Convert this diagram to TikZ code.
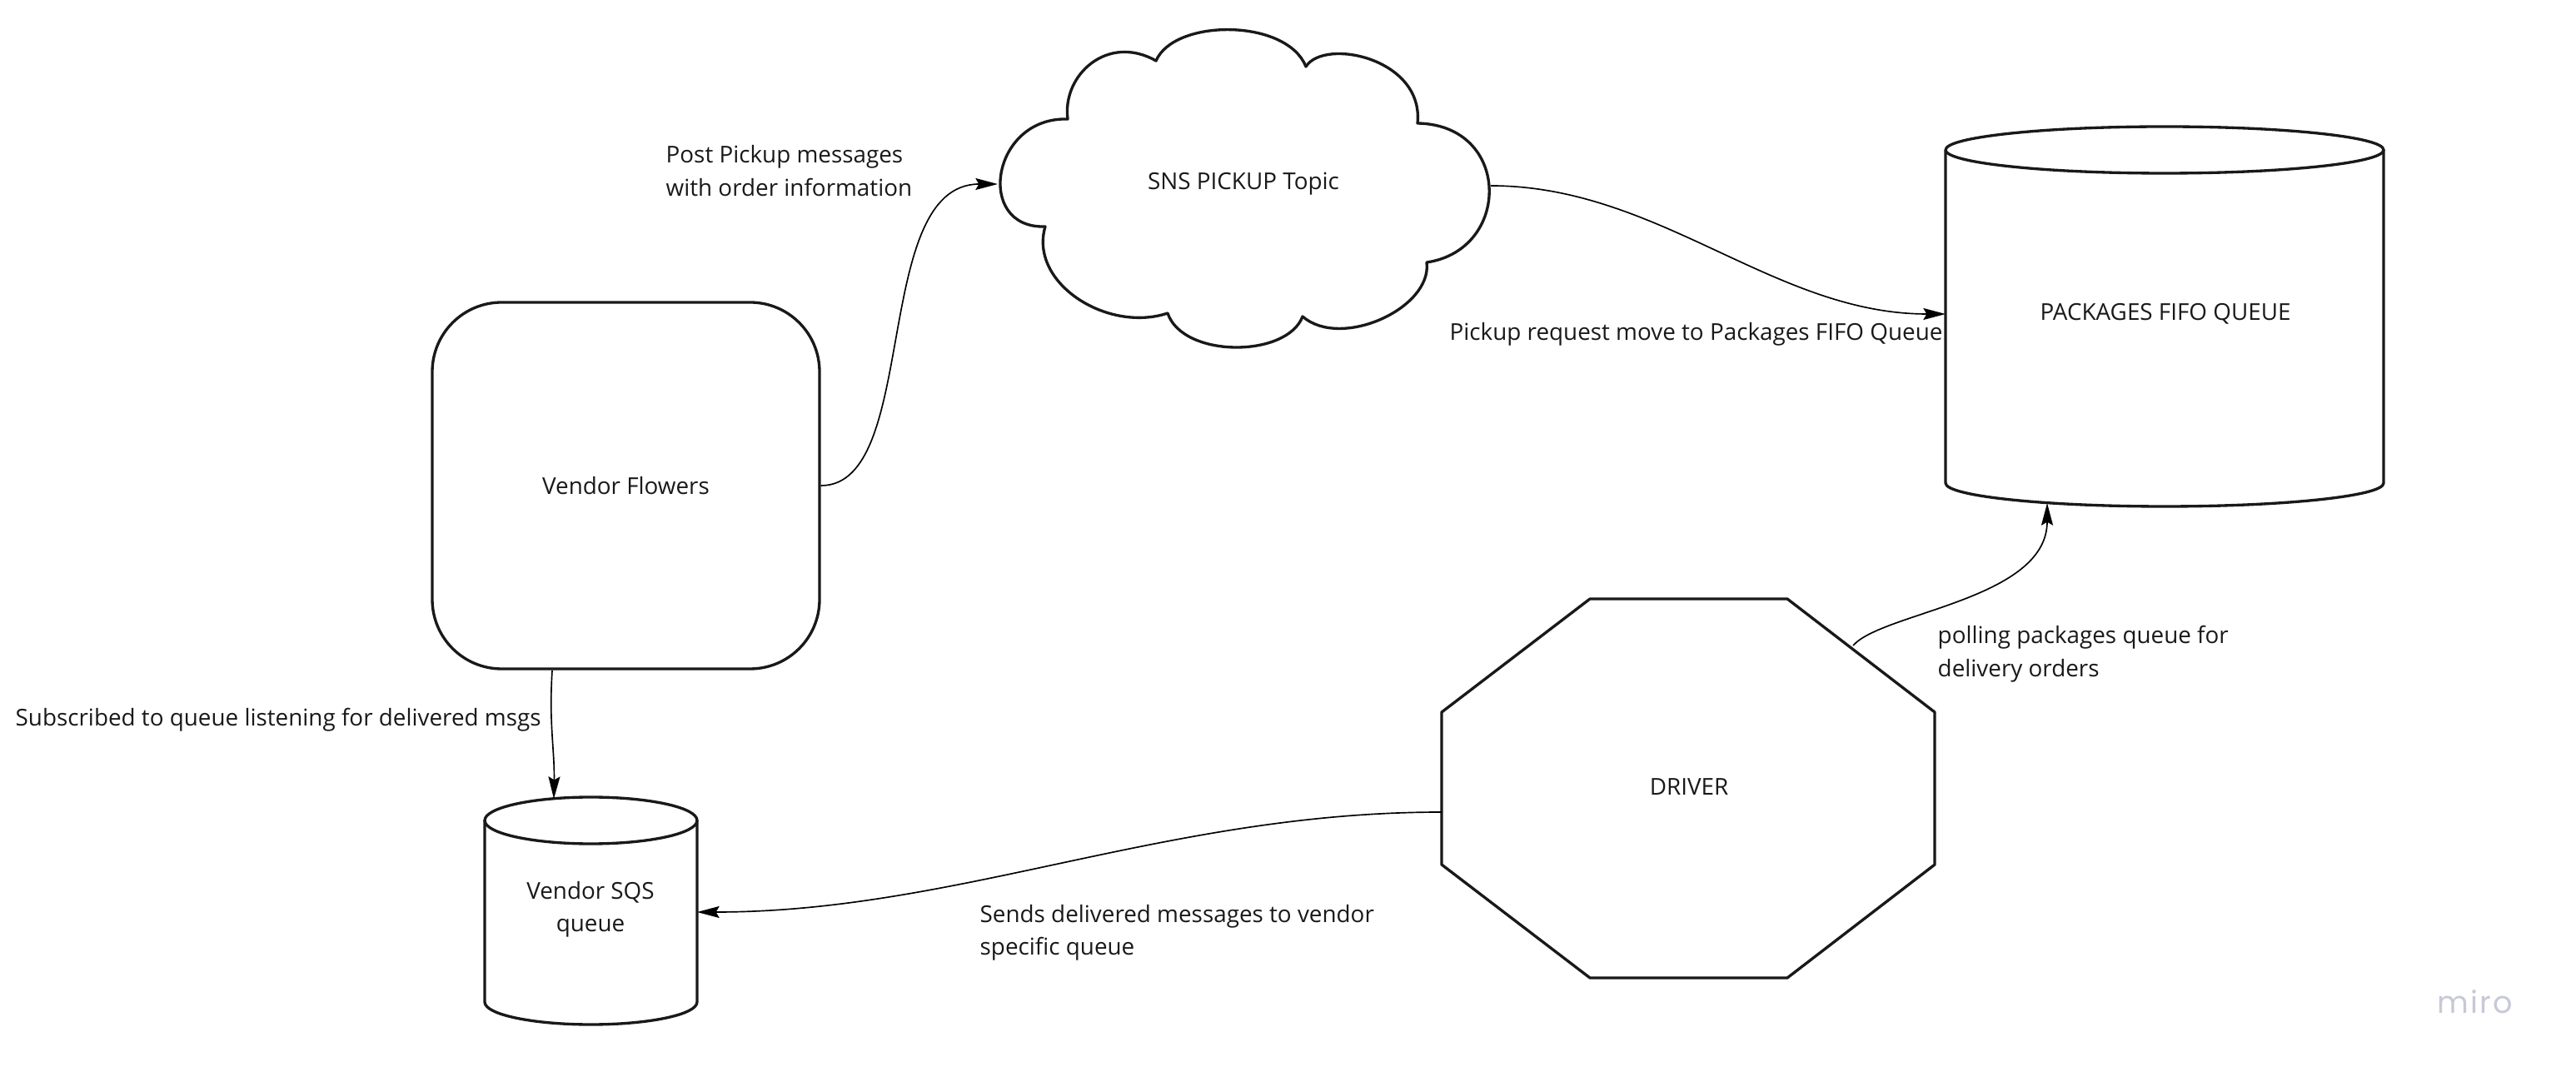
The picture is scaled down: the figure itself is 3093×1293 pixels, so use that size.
\documentclass[tikz,border=0pt]{standalone}
\usepackage{fontspec}
\setmainfont{Open Sans}
\newfontfamily\mirofont[LetterSpace=6]{Poppins}
\usetikzlibrary{arrows.meta}
\definecolor{mirogrey}{RGB}{200,201,215}
\begin{document}
\begin{tikzpicture}[x=0.3pt,y=-0.3pt,
  shapeline/.style={draw=black!90, line width=1pt, line join=round},
  conn/.style={draw=black, line width=0.5pt, -{Stealth[length=8pt,width=4.2pt,inset=1.2pt]}},
  txt/.style={font=\fontsize{8.35pt}{11.85pt}\selectfont, text=black!90, inner sep=0pt},
  lbl/.style={txt, align=left, anchor=west}]
\useasboundingbox[fill=white] (0,0) rectangle (3093,1293);

% Vendor Flowers
\node[shapeline, rounded corners=25pt, minimum width=139.5pt, minimum height=132pt, txt] (vf) at (751.5,583) {Vendor Flowers};

% SNS cloud
\draw[shapeline] (1255,272)
  .. controls (1170,275) and (1190,140) .. (1282,143)
  .. controls (1275,90) and (1330,40) .. (1388,73)
  .. controls (1410,22) and (1545,22) .. (1568,80)
  .. controls (1590,45) and (1710,70) .. (1702,148)
  .. controls (1815,150) and (1815,300) .. (1713,315)
  .. controls (1720,370) and (1610,420) .. (1564,380)
  .. controls (1545,430) and (1420,430) .. (1402,376)
  .. controls (1330,400) and (1235,340) .. cycle;
\node[txt] (sns) at (1493,221) {SNS PICKUP Topic};
\coordinate (snsW) at (1198,221);
\coordinate (snsE) at (1790,223);

% Packages FIFO queue cylinder
\draw[shapeline] (2336,180) -- (2336,580) arc[start angle=180,end angle=360,x radius=78.9pt,y radius=8.4pt] -- (2862,180);
\draw[shapeline] (2599,180) ellipse [x radius=78.9pt, y radius=8.4pt];
\node[txt] (pkg) at (2600,377) {PACKAGES FIFO QUEUE};
\coordinate (pkgW) at (2336,377);
\coordinate (pkgS) at (2458,604);

% Vendor SQS queue cylinder
\draw[shapeline] (582,985) -- (582,1203) arc[start angle=180,end angle=360,x radius=38.25pt,y radius=8.1pt] -- (837,985);
\draw[shapeline] (709.5,985) ellipse [x radius=38.25pt, y radius=8.4pt];
\node[txt, align=center] (sqs) at (709,1092) {Vendor SQS\\queue};
\coordinate (sqsN) at (665,959);
\coordinate (sqsE) at (837,1095);

% Driver octagon
\draw[shapeline] (1909,719) -- (2146,719) -- (2323,855) -- (2323,1038) -- (2146,1174) -- (1909,1174) -- (1731,1038) -- (1731,855) -- cycle;
\node[txt] (drv) at (2028,945) {DRIVER};
\coordinate (drvW) at (1731,975);
\coordinate (drvNE) at (2225,775);
\coordinate (vfS) at (663,805);

% Connectors
\draw[conn] (vf.east) .. controls (1105,583) and (1045,221) .. (snsW);
\draw[conn] (snsE) .. controls (1992,223) and (2130,377) .. (pkgW);
\draw[conn] (drvNE) .. controls (2260,735) and (2458,720) .. (pkgS);
\draw[conn] (drvW) .. controls (1400,975) and (1150,1095) .. (sqsE);
\draw[conn] (vfS) .. controls (659,870) and (666,900) .. (sqsN);

% Labels
\node[lbl] (l1) at (799,205) {Post Pickup messages\\with order information};
\node[lbl] (l2) at (1740,401) {Pickup request move to Packages FIFO Queue};
\node[lbl] (l3) at (2326,785) {polling packages queue for\\delivery orders};
\node[lbl] (l4) at (1176,1120) {Sends delivered messages to vendor\\specific queue};
\node[lbl] (l5) at (18,864) {Subscribed to queue listening for delivered msgs};

% miro logo
\node[inner sep=0pt, text=mirogrey, font=\mirofont\fontsize{11pt}{12pt}\selectfont] (miro) at (2972,1203) {miro};
\end{tikzpicture}
\end{document}
